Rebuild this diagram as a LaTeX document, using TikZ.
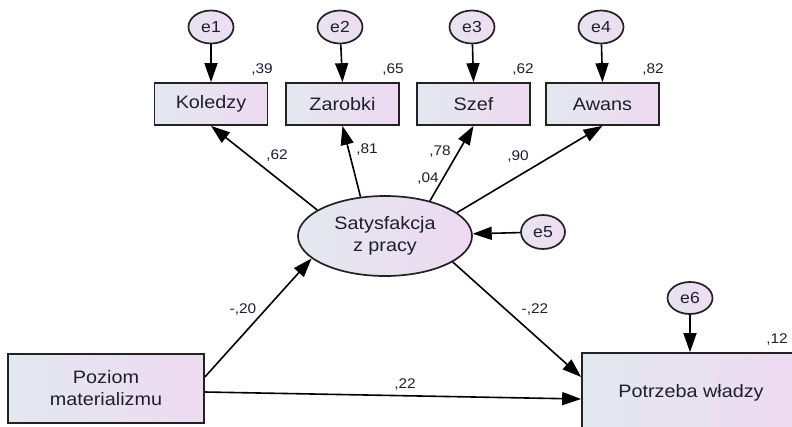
\documentclass[tikz,border=0pt]{standalone}
\usepackage{fontspec}
\setmainfont{Liberation Sans}
\newfontfamily\labf[FakeStretch=1.1]{Liberation Sans}
\usetikzlibrary{arrows.meta,shapes.geometric}
\definecolor{fillL}{HTML}{E3E8EF}
\definecolor{fillR}{HTML}{EEDAF1}
\definecolor{errL}{HTML}{E6E4EF}
\definecolor{errR}{HTML}{EFDCF2}
\definecolor{txt}{HTML}{1E1E30}
\definecolor{edge}{HTML}{222222}
\begin{document}
\begin{tikzpicture}[x=1pt,y=-1pt,
  obs/.style={draw=edge, line width=1.7pt, left color=fillL, right color=fillR,
    minimum width=113pt, minimum height=42pt, inner sep=0pt,
    font=\labf\fontsize{18}{22}\selectfont, text=txt, align=center},
  lat/.style={ellipse, draw=edge, line width=1.7pt, left color=fillL, right color=fillR,
    minimum width=174pt, minimum height=80pt, inner sep=0pt,
    font=\labf\fontsize{18}{22}\selectfont, text=txt, align=center},
  err/.style={ellipse, draw=edge, line width=1.7pt, left color=errL, right color=errR,
    minimum width=45pt, minimum height=33pt, inner sep=0pt,
    font=\labf\fontsize{16}{18}\selectfont, text=txt},
  coef/.style={font=\labf\fontsize{14}{16}\selectfont, text=txt, inner sep=0pt},
  arr/.style={draw=black, line width=1.6pt, -{Triangle[length=19pt,width=13pt]}}
]
\useasboundingbox (0,0) rectangle (792,426);
\clip (0,0) rectangle (792,426);

% error terms
\node[err] (e1) at (211,27) {e1};
\node[err] (e2) at (340,27) {e2};
\node[err] (e3) at (472,27) {e3};
\node[err] (e4) at (601,27) {e4};
\node[err, minimum width=44pt, minimum height=34pt] (e5) at (543,232) {e5};
\node[err, minimum width=45pt, minimum height=32pt] (e6) at (690,298) {e6};

% observed variables
\node[obs] (kol) at (211,104) {Koledzy};
\node[obs] (zar) at (342.5,104) {Zarobki};
\node[obs] (sze) at (473.5,104) {Szef};
\node[obs] (awa) at (602.5,104) {Awans};
\node[obs, minimum width=196pt, minimum height=69pt] (poz) at (106,388.5) {Poziom\\materializmu};
\node[obs, minimum width=218pt, minimum height=80pt] (pot) at (691,393) {Potrzeba władzy};

% latent variable
\node[lat] (sat) at (385,236) {Satysfakcja\\z pracy};

% arrows from errors
\draw[arr] (e1) -- (kol.north);
\draw[arr] (e2) -- (zar.north);
\draw[arr] (e3) -- (sze.north);
\draw[arr] (e4) -- (awa.north);
\draw[arr] (e5) -- (sat);
\draw[arr] (e6) -- (pot.north -| e6);

% loadings
\draw[arr] (sat.159) -- (kol.south);
\draw[arr] (sat.122) -- (zar.south);
\draw[arr] (sat.38) -- (sze.south);
\draw[arr] (sat.18) -- (awa.south);

% structural paths
\draw[arr] ([yshift=11.5pt]poz.east) -- (sat.197);
\draw[arr] (sat.339) -- ([yshift=16pt]pot.west);
\draw[arr] ([yshift=-3.5pt]poz.east) -- ([yshift=-6pt]pot.west);

% coefficients
\node[coef] (r1) at (262,70) {,39};
\node[coef] (r2) at (393,70) {,65};
\node[coef] (r3) at (523,70) {,62};
\node[coef] (r4) at (653,70) {,82};
\node[coef] (l1) at (277,156) {,62};
\node[coef] (l2) at (367,150) {,81};
\node[coef] (l3) at (440,152) {,78};
\node[coef] (r5) at (428,179) {,04};
\node[coef] (l4) at (518,157) {,90};
\node[coef] (p1) at (243,310) {-,20};
\node[coef] (p2) at (535,310) {-,22};
\node[coef] (p3) at (405,384) {,22};
\node[coef] (r6) at (777,340) {,12};
\end{tikzpicture}
\end{document}
